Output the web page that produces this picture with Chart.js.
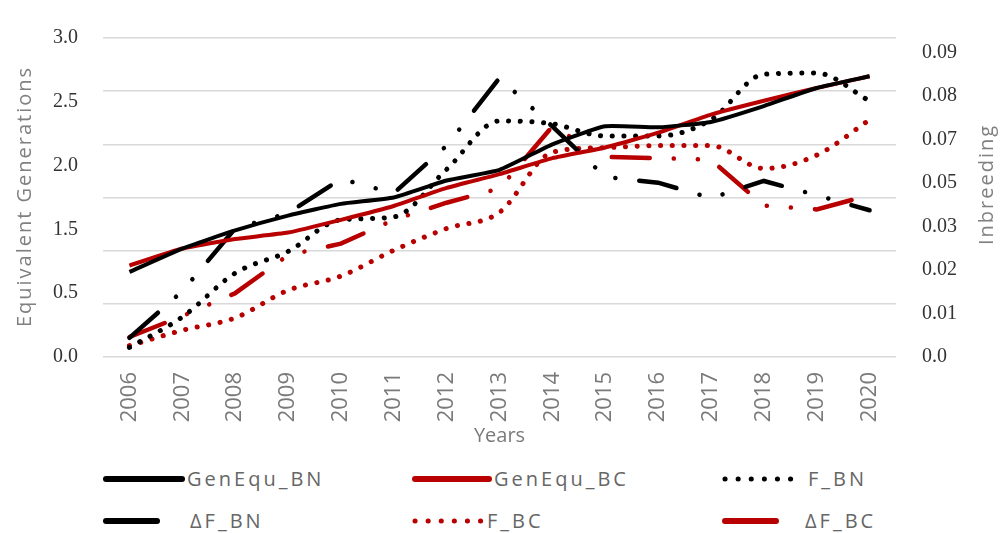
<!DOCTYPE html>
<html lang="en">
<head>
  <meta charset="UTF-8">
  <title>Equivalent Generations and Inbreeding</title>
  <script src="https://cdn.jsdelivr.net/npm/chart.js"></script>
  <style>
    body { margin: 0; background: #fff; }
    #wrap { position: relative; width: 1000px; height: 533px; }
    .item { position: absolute; height: 30px; line-height: 30px; font-family: 'Open Sans'; font-size: 20px; letter-spacing: 3px; color: #666; white-space: nowrap; }
    .item svg { position: absolute; left: 0; top: 0; }
  </style>
</head>
<body>
<div id="wrap">
  <canvas id="myChart" width="1000" height="460"></canvas>
  <div id="legend"></div>
</div>

<script>
  const years = ['2006', '2007', '2008', '2009', '2010', '2011', '2012', '2013', '2014', '2015', '2016', '2017', '2018', '2019', '2020'];

  // equivalent generations (left axis)
  const genEquBN = [0.80, 1.02, 1.19, 1.33, 1.44, 1.50, 1.66, 1.76, 2.00, 2.17, 2.16, 2.21, 2.36, 2.53, 2.64];
  const genEquBC = [0.86, 1.02, 1.11, 1.17, 1.29, 1.42, 1.59, 1.72, 1.87, 1.97, 2.11, 2.28, 2.41, 2.53, 2.64];

  // inbreeding (right axis)
  const fBN  = [0.0033, 0.0138, 0.0289, 0.0364, 0.0473, 0.0483, 0.0647, 0.0814, 0.0804, 0.0762, 0.0762, 0.0818, 0.0975, 0.0979, 0.0883];
  const fBC  = [0.0039, 0.0092, 0.0135, 0.0230, 0.0279, 0.0368, 0.0443, 0.0499, 0.0706, 0.0722, 0.0729, 0.0729, 0.0650, 0.0696, 0.0818];
  const dfBN = [0.0066, 0.0227, 0.0443, 0.0496, 0.0614, 0.0565, 0.0729, 0.0962, 0.0795, 0.0621, 0.0601, 0.0548, 0.0607, 0.0558, 0.0506];
  const dfBC = [0.0069, 0.0141, 0.0220, 0.0351, 0.0391, 0.0473, 0.0532, 0.0581, 0.0795, 0.0690, 0.0686, 0.0680, 0.0522, 0.0509, 0.0558];

  // tick labels as printed on the original
  const genTickLabels = ['0.0', '0.5', '1.5', '2.0', '2.5', '3.0'];
  const inbTickLabels = ['0.0', '0.01', '0.02', '0.03', '0.05', '0.07', '0.08', '0.09'];
  const inbTickStep = 0.015;

  const RED = '#b80000';
  const BLACK = '#000000';
  const dotDash = [0.1, 11.6];
  const longDashDotDot = [38, 24, 0.1, 24, 0.1, 24];

  const data = {
    labels: years,
    datasets: [
      { label: 'GenEqu_BN', data: genEquBN, yAxisID: 'y', borderColor: BLACK, borderWidth: 4, tension: 0.15 },
      { label: 'GenEqu_BC', data: genEquBC, yAxisID: 'y', borderColor: RED, borderWidth: 4, tension: 0.15 },
      { label: 'F_BN', data: fBN, yAxisID: 'y1', borderColor: BLACK, borderWidth: 5, borderDash: dotDash, borderCapStyle: 'round', cubicInterpolationMode: 'monotone' },
      { label: 'ΔF_BN', data: dfBN, yAxisID: 'y1', borderColor: BLACK, borderWidth: 4.5, borderDash: longDashDotDot, borderCapStyle: 'round', tension: 0 },
      { label: 'F_BC', data: fBC, yAxisID: 'y1', borderColor: RED, borderWidth: 5, borderDash: dotDash, borderCapStyle: 'round', cubicInterpolationMode: 'monotone' },
      { label: 'ΔF_BC', data: dfBC, yAxisID: 'y1', borderColor: RED, borderWidth: 4.5, borderDash: longDashDotDot, borderCapStyle: 'round', tension: 0 }
    ]
  };

  // rotated axis titles (both read bottom to top on the original)
  const axisTitles = {
    id: 'axisTitles',
    afterDraw(chart) {
      const { ctx, chartArea } = chart;
      const midY = (chartArea.top + chartArea.bottom) / 2;
      ctx.save();
      ctx.font = '20px "Open Sans"';
      ctx.fillStyle = '#808080';
      ctx.letterSpacing = '2px';
      ctx.textAlign = 'center';
      ctx.textBaseline = 'middle';
      [[25, midY - 1, 'Equivalent Generations'], [987, midY - 13, 'Inbreeding']].forEach(([x, y, t]) => {
        ctx.save();
        ctx.translate(x, y);
        ctx.rotate(-Math.PI / 2);
        ctx.fillText(t, 0, 0);
        ctx.restore();
      });
      ctx.restore();
    }
  };

  const tickFont = { family: 'Liberation Serif', size: 20 };

  const config = {
    type: 'line',
    data: data,
    options: {
      responsive: false,
      animation: false,
      layout: { padding: { top: 22, left: 0, right: 0, bottom: 0 } },
      elements: { point: { radius: 0 } },
      plugins: { legend: { display: false }, tooltip: { enabled: false } },
      scales: {
        x: {
          type: 'category',
          offset: true,
          grid: { display: false, drawTicks: false },
          border: { display: false },
          ticks: { minRotation: 90, maxRotation: 90, autoSkip: false, padding: 15, color: '#7a7a7a', font: { family: 'Open Sans', size: 22 } },
          title: { display: true, text: 'Years', color: '#7a7a7a', font: { family: 'Open Sans', size: 20 }, padding: { top: 0, bottom: 12 } },
          afterFit: s => { s.height = 103; }
        },
        yg: {
          type: 'linear',
          position: 'left',
          min: 0,
          max: 6,
          ticks: { display: false, stepSize: 1 },
          grid: { color: '#d9d9d9', lineWidth: 1.5, drawTicks: false },
          border: { display: false },
          afterFit: s => { s.width = 0; }
        },
        y: {
          type: 'linear',
          position: 'left',
          min: 0,
          max: 3,
          grid: { display: false, drawTicks: false },
          border: { display: false },
          ticks: { count: genTickLabels.length, padding: 25, color: '#333', font: tickFont, callback: (v, i) => genTickLabels[i] },
          afterFit: s => { s.width = 103; }
        },
        y1: {
          type: 'linear',
          position: 'right',
          min: 0,
          max: 0.11,
          grid: { display: false, drawTicks: false },
          border: { display: false },
          ticks: { padding: 26, color: '#333', font: tickFont, callback: (v, i) => inbTickLabels[i] },
          afterBuildTicks: s => { s.ticks = inbTickLabels.map((_, i) => ({ value: i * inbTickStep })); },
          afterFit: s => { s.width = 104; }
        }
      }
    },
    plugins: [axisTitles]
  };

  const ctx = document.getElementById('myChart').getContext('2d');
  const myChart = new Chart(ctx, config);

  // legend laid out as a 3x2 grid like the original
  const legendSpots = [
    { x: 103, len: 82, tx: 187, y: 479 },
    { x: 412, len: 80, tx: 494, y: 479 },
    { x: 722, len: 80, tx: 808, y: 479 },
    { x: 103, len: 57, tx: 190, y: 521 },
    { x: 412, len: 72, tx: 487, y: 521 },
    { x: 722, len: 57, tx: 805, y: 521 }
  ];
  const legend = document.getElementById('legend');
  myChart.data.datasets.forEach((ds, i) => {
    const p = legendSpots[i];
    const item = document.createElement('div');
    item.className = 'item';
    item.style.left = p.x + 'px';
    item.style.top = (p.y - 15) + 'px';
    item.style.paddingLeft = (p.tx - p.x) + 'px';
    const dotted = ds.borderDash && ds.borderDash[0] < 1;
    const dash = dotted ? 'stroke-dasharray="0.1 13"' : '';
    const w = dotted ? 5 : 6;
    item.innerHTML =
      '<svg width="' + (p.len + 4) + '" height="30"><line x1="3" y1="15" x2="' + (p.len - 3) + '" y2="15" stroke="' + ds.borderColor +
      '" stroke-width="' + w + '" stroke-linecap="round" ' + dash + '/></svg>' + ds.label;
    legend.appendChild(item);
  });
</script>
</body>
</html>
